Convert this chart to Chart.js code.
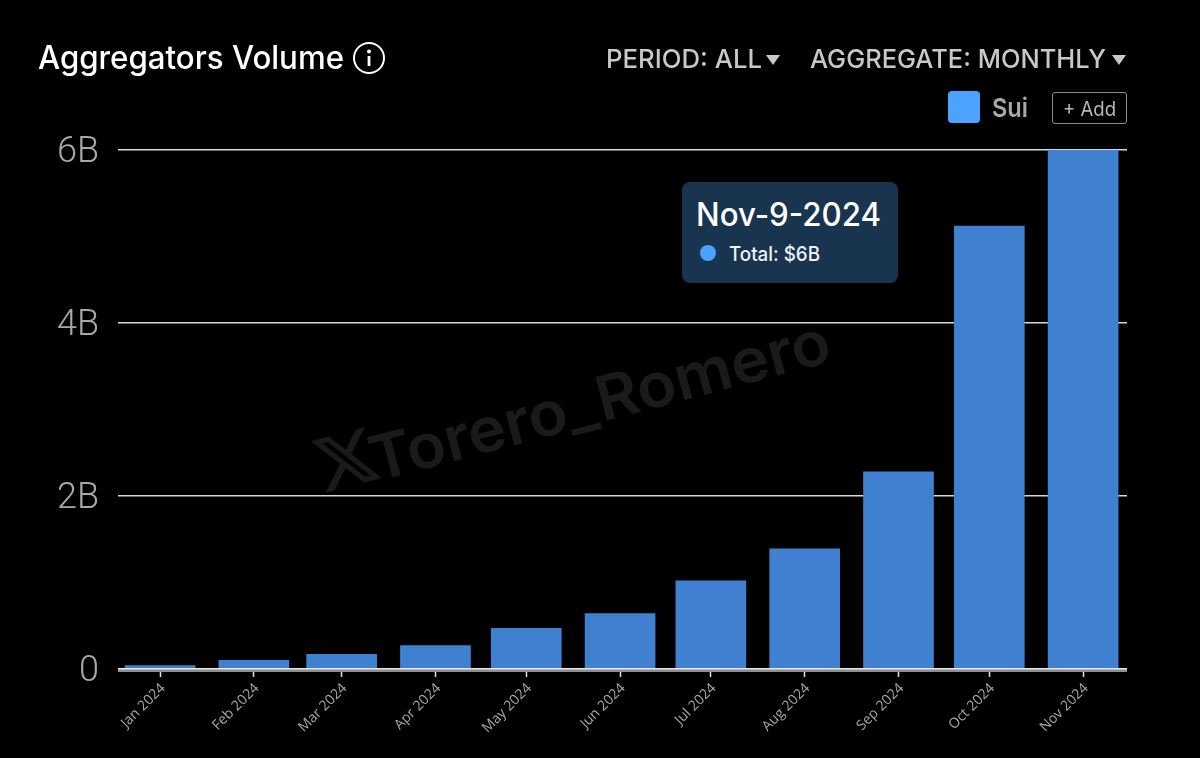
<!DOCTYPE html>
<html>
<head>
<meta charset="utf-8">
<script src="https://cdn.jsdelivr.net/npm/chart.js@4/dist/chart.umd.min.js"></script>
<style>
html,body{margin:0;padding:0;background:#000;width:1200px;height:758px;overflow:hidden}
#c{position:absolute;left:0;top:0;width:1200px;height:758px}
.t{position:absolute;white-space:nowrap;font-family:Inter,sans-serif;transform-origin:0 0;line-height:1}
.s{position:absolute}
#wm{position:absolute;left:0;top:0}
</style>
</head>
<body>
<svg id="wm" width="1200" height="758" viewBox="0 0 1200 758">
  <g transform="translate(322,497) rotate(-14.8)" fill="#1a1a1a">
    <g transform="translate(0,-63) scale(2.75)">
      <path fill-rule="evenodd" d="M18.244 2.25h3.308l-7.227 8.26 8.502 11.24H16.17l-5.214-6.817L4.99 21.75H1.68l7.73-8.835L1.254 2.25H8.08l4.713 6.231zm-1.161 17.52h1.833L7.084 4.126H5.117z"/>
    </g>
    <text x="56" y="-1" font-family="Inter" font-weight="600" font-size="62" textLength="474" lengthAdjust="spacingAndGlyphs">Torero_Romero</text>
  </g>
</svg>
<canvas id="c" width="1200" height="758"></canvas>

<div class="t" data-w="306" style="left:38px;top:42px;font-size:32px;font-weight:500;color:#fff">Aggregators Volume</div>
<svg class="s" style="left:352px;top:41px" width="34" height="34" viewBox="0 0 34 34">
  <circle cx="17" cy="17" r="15" fill="none" stroke="#fff" stroke-width="2"/>
  <circle cx="17" cy="10.5" r="2" fill="#fff"/>
  <rect x="15.6" y="15" width="2.8" height="10" fill="#fff"/>
</svg>

<div class="t" data-w="156" style="left:606px;top:46px;font-size:26px;font-weight:500;color:#c8c8c8">PERIOD: ALL</div>
<svg class="s" style="left:766px;top:55px" width="14" height="10"><path d="M0 0H14L7 10Z" fill="#c8c8c8"/></svg>
<div class="t" data-w="296" style="left:810px;top:46px;font-size:26px;font-weight:500;color:#c8c8c8">AGGREGATE: MONTHLY</div>
<svg class="s" style="left:1112px;top:55px" width="14" height="10"><path d="M0 0H14L7 10Z" fill="#c8c8c8"/></svg>

<div class="s" style="left:948px;top:91px;width:32px;height:32px;border-radius:4px;background:#4ca3ff"></div>
<div class="t" data-w="36" style="left:992px;top:95px;font-size:26px;font-weight:600;color:#a8a8a8">Sui</div>
<div class="s" style="left:1052px;top:92px;width:73px;height:30px;border:1.5px solid #8a8a8a;border-radius:3px"></div>
<div class="t" data-w="53" style="left:1063px;top:99px;font-size:20px;color:#b8b8b8">+ Add</div>

<div class="s" style="left:682px;top:182px;width:216px;height:101px;border-radius:8px;background:#19344f"></div>
<div class="t" data-w="185" style="left:696px;top:199px;font-size:32px;font-weight:500;color:#fff">Nov-9-2024</div>
<div class="s" style="left:700px;top:245px;width:16px;height:16px;border-radius:50%;background:#4ca3ff"></div>
<div class="t" data-w="91" style="left:729px;top:244px;font-size:20px;font-weight:500;color:#eef2f6">Total: $6B</div>

<script>
const monthLabels = ["Jan 2024","Feb 2024","Mar 2024","Apr 2024","May 2024","Jun 2024","Jul 2024","Aug 2024","Sep 2024","Oct 2024","Nov 2024"];
const monthStartDays = [0,31,60,91,121,152,182,213,244,274,305];
const volumeBillions = [0.04,0.10,0.17,0.27,0.47,0.64,1.02,1.39,2.28,5.12,6.0];
const yTickValues = [0,2,4,6];
const yTickLabels = ["0","2B","4B","6B"];

document.querySelectorAll('.t[data-w]').forEach(el=>{
  const w = el.getBoundingClientRect().width;
  el.style.transform = 'scaleX(' + (parseFloat(el.dataset.w)/w) + ')';
});

const baseline = {
  id:'baseline',
  afterDatasetsDraw(chart){
    const {ctx,chartArea,scales} = chart;
    const y0 = scales.y.getPixelForValue(0);
    ctx.save();
    ctx.fillStyle = '#8e8e8e';
    ctx.fillRect(chartArea.left,y0,chartArea.right-chartArea.left,3);
    ctx.fillStyle = '#e6e6e6';
    ctx.fillRect(chartArea.left,y0-1,chartArea.right-chartArea.left,1.5);
    ctx.restore();
  }
};

new Chart(document.getElementById('c'),{
  type:'bar',
  plugins:[baseline],
  data:{datasets:[{
    data:monthStartDays.map((d,i)=>({x:d,y:volumeBillions[i]})),
    backgroundColor:'#3f81d0',
    barThickness:70,
    borderWidth:0
  }]},
  options:{
    responsive:false,
    animation:false,
    devicePixelRatio:1,
    layout:{padding:{top:150,right:73,left:0,bottom:0}},
    plugins:{legend:{display:false},tooltip:{enabled:false},title:{display:false}},
    scales:{
      x:{
        type:'linear',
        min:-13.9,
        max:319.5,
        offset:false,
        afterFit(s){s.height=89;},
        afterBuildTicks(s){s.ticks=monthStartDays.map(v=>({value:v}));},
        grid:{drawOnChartArea:false,drawTicks:true,tickLength:8,tickColor:'#e0e0e0',tickWidth:1.5,offset:false},
        border:{display:false},
        ticks:{
          autoSkip:false,
          minRotation:45,
          maxRotation:45,
          padding:3,
          labelOffset:3,
          color:'#a8a8a8',
          font:{family:'Open Sans',size:14},
          callback(v,i){return monthLabels[i];}
        }
      },
      y:{
        min:0,
        max:6,
        afterFit(s){s.width=118;},
        afterBuildTicks(s){s.ticks=yTickValues.map(v=>({value:v}));},
        grid:{color:'#d8d8d8',lineWidth:1.5,drawTicks:false},
        border:{display:false},
        ticks:{
          padding:19,
          labelOffset:3,
          color:'#a8a8a8',
          font:{family:'Roboto',weight:'300',size:36},
          callback(v,i){return yTickLabels[i];}
        }
      }
    }
  }
});
</script>
</body>
</html>
